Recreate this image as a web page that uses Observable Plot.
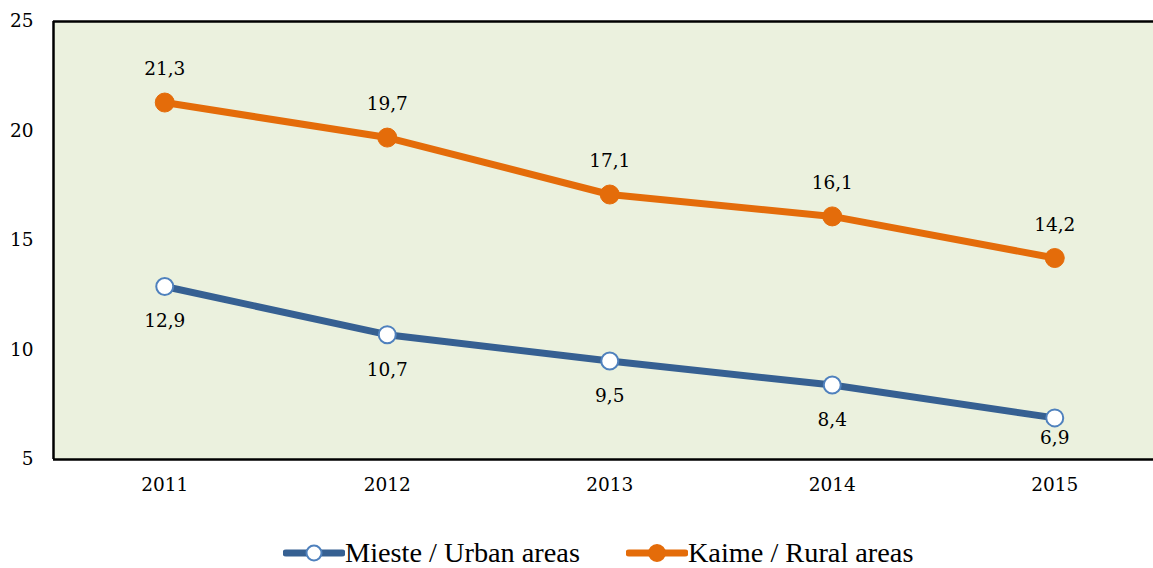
<!DOCTYPE html>
<html>
<head>
<meta charset="utf-8">
<script src="https://cdn.jsdelivr.net/npm/d3@7"></script>
<script src="https://cdn.jsdelivr.net/npm/@observablehq/plot@0.6"></script>
<style>
  html, body { margin: 0; padding: 0; background: #fff; }
  #wrap { position: relative; width: 1153px; height: 568px; overflow: hidden; }
  #chart { position: absolute; left: 0; top: 0; }
  #legend { position: absolute; left: 283px; top: 538px; height: 30px; display: flex; align-items: center;
            font-family: "Liberation Serif", serif; font-size: 28.3px; color: #000; white-space: nowrap; }
  .item { display: flex; align-items: center; }
  .item svg { display: block; }
</style>
</head>
<body>
<div id="wrap">
  <div id="chart"></div>
  <div id="legend"></div>
</div>
<script>
// ---- data ----
const years = [2011, 2012, 2013, 2014, 2015];
const urbanValues = [12.9, 10.7, 9.5, 8.4, 6.9];
const ruralValues = [21.3, 19.7, 17.1, 16.1, 14.2];
const yTicks = [5, 10, 15, 20, 25];
const seriesNames = ["Mieste / Urban areas", "Kaime / Rural areas"];

const urban = years.map((year, i) => ({year, value: urbanValues[i]}));
const rural = years.map((year, i) => ({year, value: ruralValues[i]}));

const BLUE = "#366092";
const BLUE_EDGE = "#4F81BD";
const ORANGE = "#E46C0A";
const BG = "#EBF1DE";
const fmt = v => v.toFixed(1).replace(".", ",");

const chart = Plot.plot({
  width: 1153,
  height: 510,
  marginLeft: 53,
  marginRight: 0,
  marginTop: 21,
  marginBottom: 51,
  style: {fontFamily: "DejaVu Serif", fontSize: "18.5px", color: "#000", background: "transparent"},
  x: {type: "linear", domain: [2010.5, 2015.5], range: [53, 1165.5], label: null},
  y: {domain: [5, 25], label: null},
  marks: [
    Plot.frame({fill: BG, stroke: null}),
    Plot.ruleY([5, 25], {stroke: "#000", strokeWidth: 2.5}),
    Plot.ruleX([2010.5], {stroke: "#000", strokeWidth: 2.5}),
    Plot.axisY(yTicks, {tickSize: 0, tickPadding: 20, label: null}),
    Plot.axisX(years, {tickSize: 0, tickPadding: 18, tickFormat: d => String(d), label: null}),
    Plot.line(urban, {x: "year", y: "value", stroke: BLUE, strokeWidth: 7}),
    Plot.line(rural, {x: "year", y: "value", stroke: ORANGE, strokeWidth: 7}),
    Plot.dot(urban, {x: "year", y: "value", r: 8.5, fill: "#fff", stroke: BLUE_EDGE, strokeWidth: 2}),
    Plot.dot(rural, {x: "year", y: "value", r: 9.5, fill: ORANGE, stroke: ORANGE, strokeWidth: 1}),
    Plot.text(rural, {x: "year", y: "value", text: d => fmt(d.value), dy: -33, fill: "#000"}),
    Plot.text(urban.filter(d => d.value >= 8), {x: "year", y: "value", text: d => fmt(d.value), dy: 35, fill: "#000"}),
    Plot.text(urban.filter(d => d.value < 8), {x: "year", y: "value", text: d => fmt(d.value), dy: 20, fill: "#000"})
  ]
});
document.getElementById("chart").appendChild(chart);

// ---- legend ----
const legend = document.getElementById("legend");
const swatches = [
  {name: seriesNames[0], line: BLUE, fill: "#fff", edge: BLUE_EDGE, r: 7.5},
  {name: seriesNames[1], line: ORANGE, fill: ORANGE, edge: ORANGE, r: 8}
];
swatches.forEach((s, i) => {
  const item = document.createElement("div");
  item.className = "item";
  if (i > 0) item.style.marginLeft = "46px";
  item.innerHTML =
    `<svg width="62" height="24" viewBox="0 0 62 24">
       <line x1="3" y1="12" x2="59" y2="12" stroke="${s.line}" stroke-width="7" stroke-linecap="round"/>
       <circle cx="31" cy="12" r="${s.r}" fill="${s.fill}" stroke="${s.edge}" stroke-width="2"/>
     </svg><span>${s.name}</span>`;
  legend.appendChild(item);
});
</script>
</body>
</html>
